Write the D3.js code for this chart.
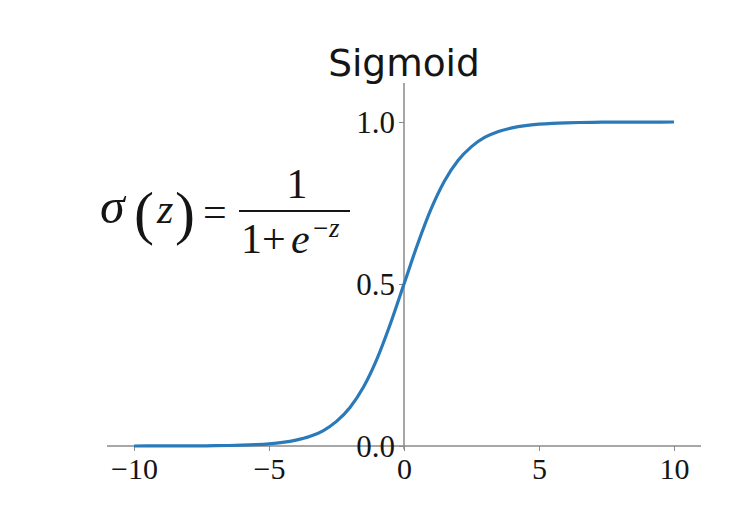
<!DOCTYPE html>
<html>
<head>
<meta charset="utf-8">
<script src="https://cdn.jsdelivr.net/npm/d3@7"></script>
<style>
  body { margin: 0; background: #fff; }
  svg { display: block; }
</style>
</head>
<body>
<svg width="756" height="510"></svg>
<script>
// points
const zValues = [-10, -9.5, -9, -8.5, -8, -7.5, -7, -6.5, -6, -5.5, -5, -4.5, -4, -3.5, -3, -2.5, -2, -1.5, -1, -0.5,
  0, 0.5, 1, 1.5, 2, 2.5, 3, 3.5, 4, 4.5, 5, 5.5, 6, 6.5, 7, 7.5, 8, 8.5, 9, 9.5, 10];
const sigmaValues = [0.0000, 0.0001, 0.0001, 0.0002, 0.0003, 0.0006, 0.0009, 0.0015, 0.0025, 0.0041, 0.0067, 0.011, 0.018, 0.029, 0.047, 0.076, 0.119, 0.182, 0.269, 0.378,
  0.5, 0.622, 0.731, 0.818, 0.881, 0.924, 0.953, 0.971, 0.982, 0.989, 0.9933, 0.9959, 0.9975, 0.9985, 0.9991, 0.9994, 0.9997, 0.9998, 0.9999, 0.9999, 1.0];
const xTicks = [-10, -5, 0, 5, 10];
const yTicks = [0.0, 0.5, 1.0];
const title = "Sigmoid";

const svg = d3.select("svg");

// scales
const x = d3.scaleLinear().domain([-11, 11]).range([107, 701]);
const y = d3.scaleLinear().domain([0, 1]).range([446, 122]);

const axisColor = "#8a8a8a";
const textColor = "#151515";
const serif = "'Liberation Serif', 'Times New Roman', serif";

// x axis spine through y = 0
const xAxis = svg.append("g")
  .attr("transform", `translate(0,${y(0)})`)
  .call(d3.axisBottom(x).tickValues(xTicks).tickSize(5).tickPadding(6)
    .tickFormat(d => d < 0 ? "\u2212" + Math.abs(d) : d));
xAxis.select(".domain").attr("stroke", axisColor).attr("stroke-width", 1.5)
  .attr("d", `M${x(-11)},0H${x(11)}`);
xAxis.selectAll(".tick line").attr("stroke", axisColor);
xAxis.selectAll(".tick text")
  .attr("fill", textColor)
  .attr("font-family", serif)
  .attr("font-size", 30)
  .attr("dy", "0.72em");

// y axis spine through x = 0
const yAxis = svg.append("g")
  .attr("transform", `translate(${x(0)},0)`)
  .call(d3.axisLeft(y).tickValues(yTicks).tickSize(5).tickPadding(4)
    .tickFormat(d3.format(".1f")));
yAxis.select(".domain").attr("stroke", axisColor).attr("stroke-width", 1.5)
  .attr("d", `M0,${y(1.12)}V${y(-0.01)}`);
yAxis.selectAll(".tick line").attr("stroke", axisColor);
yAxis.selectAll(".tick text")
  .attr("fill", textColor)
  .attr("font-family", serif)
  .attr("font-size", 31)
  .attr("dy", "0.34em");

// curve
const line = d3.line()
  .x((d, i) => x(zValues[i]))
  .y(d => y(d))
  .curve(d3.curveMonotoneX);

svg.append("path")
  .datum(sigmaValues)
  .attr("fill", "none")
  .attr("stroke", "#2a7ab9")
  .attr("stroke-width", 3.2)
  .attr("d", line);

// title
svg.append("text")
  .attr("x", x(0))
  .attr("y", 76)
  .attr("text-anchor", "middle")
  .attr("font-family", "'DejaVu Sans', sans-serif")
  .attr("font-size", 37.5)
  .attr("fill", textColor)
  .text(title);

// formula
const formula = svg.append("g")
  .attr("font-family", serif)
  .attr("fill", textColor);

formula.append("text").attr("x", 100).attr("y", 223)
  .attr("font-size", 50).attr("font-style", "italic").text("\u03c3");
formula.append("text").attr("x", 134).attr("y", 233)
  .attr("font-size", 60).text("(");
formula.append("text").attr("x", 157).attr("y", 223)
  .attr("font-size", 42).attr("font-style", "italic").text("z");
formula.append("text").attr("x", 175).attr("y", 233)
  .attr("font-size", 60).text(")");
formula.append("text").attr("x", 203).attr("y", 226)
  .attr("font-size", 42).text("=");
formula.append("line")
  .attr("x1", 239).attr("x2", 350).attr("y1", 211).attr("y2", 211)
  .attr("stroke", textColor).attr("stroke-width", 2);
formula.append("text").attr("x", 297).attr("y", 198)
  .attr("text-anchor", "middle").attr("font-size", 42).text("1");
formula.append("text").attr("x", 241).attr("y", 253)
  .attr("font-size", 42).text("1+");
formula.append("text").attr("x", 291).attr("y", 253)
  .attr("font-size", 42).attr("font-style", "italic").text("e");
formula.append("text").attr("x", 313).attr("y", 237)
  .attr("font-size", 27).text("\u2212");
formula.append("text").attr("x", 329).attr("y", 237)
  .attr("font-size", 27).attr("font-style", "italic").text("z");
</script>
</body>
</html>
